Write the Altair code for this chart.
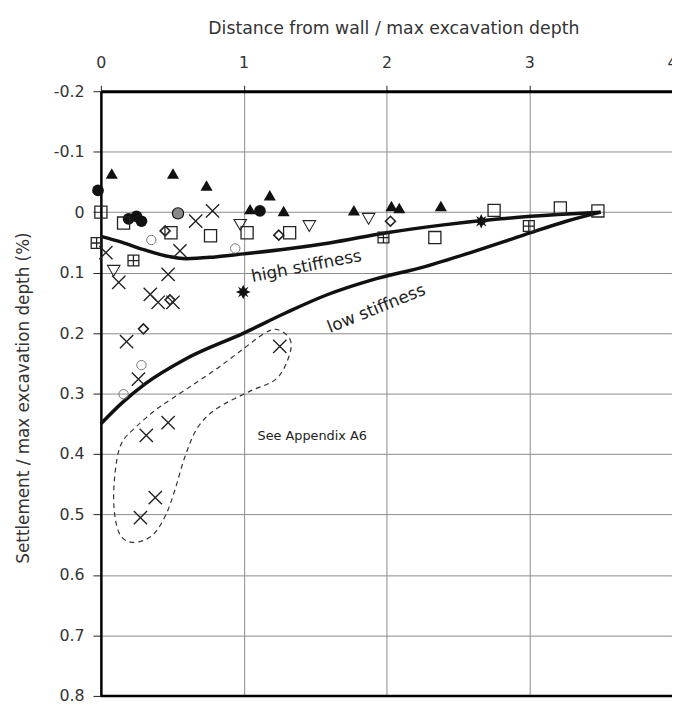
import altair as alt
import pandas as pd

# ---- data ----
tri_x = [0.076, 0.505, 0.740, 1.183, 1.045, 1.280, 1.772, 2.035, 2.090, 2.381]
tri_y = [-0.064, -0.064, -0.044, -0.028, -0.005, -0.002, -0.003, -0.010, -0.007, -0.010]

circ_x = [-0.02, 0.249, 0.284, 0.194, 1.114]
circ_y = [-0.036, 0.007, 0.015, 0.011, -0.002]

half_x = [0.540]
half_y = [0.002]

sq_x = [0.0, 0.159, 0.491, 0.768, 1.024, 1.322, 2.339, 2.754, 3.218, 3.481]
sq_y = [0.0, 0.018, 0.034, 0.039, 0.034, 0.034, 0.042, -0.003, -0.007, -0.002]

xsq_x = [-0.03, 0.228, 1.979, 2.997]
xsq_y = [0.051, 0.080, 0.042, 0.023]

tdn_x = [0.09, 0.976, 1.460, 1.875]
tdn_y = [0.097, 0.021, 0.023, 0.011]

dia_x = [0.450, 1.246, 2.028, 0.298, 0.484]
dia_y = [0.031, 0.038, 0.015, 0.193, 0.145]

oc_x = [0.284, 0.159, 0.941, 0.353]
oc_y = [0.253, 0.301, 0.060, 0.046]

star_x = [0.997, 2.664]
star_y = [0.132, 0.015]

cross_x = [0.664, 0.782, 0.035, 0.554, 0.471, 0.125, 0.346, 0.401, 0.505,
           0.180, 0.263, 1.253, 0.471, 0.318, 0.381, 0.277]
cross_y = [0.015, -0.002, 0.067, 0.064, 0.103, 0.116, 0.136, 0.149, 0.149,
           0.214, 0.276, 0.222, 0.348, 0.369, 0.472, 0.505]

high_x = [0.0, 0.15, 0.3, 0.45, 0.6, 0.8, 1.0, 1.3, 1.6, 2.0, 2.4, 2.8, 3.2, 3.5]
high_y = [0.040, 0.050, 0.062, 0.072, 0.077, 0.074, 0.069, 0.061, 0.051, 0.034, 0.021, 0.011, 0.004, 0.0]

low_x = [0.0, 0.15, 0.31, 0.6, 1.0, 1.3, 1.58, 1.9, 2.27, 2.6, 2.96, 3.26, 3.5]
low_y = [0.350, 0.315, 0.284, 0.242, 0.200, 0.166, 0.137, 0.112, 0.090, 0.066, 0.038, 0.015, 0.0]

loop_x = [1.232, 1.322, 1.322, 1.232, 1.045, 0.817, 0.678, 0.588, 0.519, 0.450, 0.353,
          0.215, 0.125, 0.090, 0.104, 0.145, 0.242, 0.401, 0.609, 0.817, 1.003, 1.142]
loop_y = [0.194, 0.209, 0.235, 0.275, 0.296, 0.324, 0.356, 0.405, 0.459, 0.503, 0.536,
          0.546, 0.529, 0.480, 0.422, 0.382, 0.356, 0.324, 0.291, 0.258, 0.225, 0.201]

labels = ["high stiffness", "low stiffness", "See Appendix A6"]
label_x = [1.44, 1.93, 1.48]
label_y = [0.090, 0.160, 0.371]
label_angle = [349, 338, 0]
label_size = [17, 17, 13]

FONT = "DejaVu Sans"
INK = "#222222"

def df(xs, ys):
    return pd.DataFrame({"x": xs, "y": ys})

X = alt.X("x:Q",
          scale=alt.Scale(domain=[0, 4], nice=False, zero=False),
          axis=alt.Axis(orient="top", values=[0, 1, 2, 3, 4], format="d", labelFlush=False,
                        title="Distance from wall / max excavation depth",
                        titleX=296, titleY=-63, titleAlign="center", titleBaseline="middle",
                        titleFontSize=17.5, titleFontWeight="normal", titleColor="#333",
                        labelFontSize=16, labelColor="#333", labelPadding=15,
                        tickSize=6, tickColor="#222", domainColor="black", domainWidth=3,
                        grid=True, gridColor="#8a8a8a", gridWidth=1))
Y = alt.Y("y:Q",
          scale=alt.Scale(domain=[-0.2, 0.8], reverse=True, nice=False, zero=False),
          axis=alt.Axis(values=[-0.2, -0.1, 0, 0.1, 0.2, 0.3, 0.4, 0.5, 0.6, 0.7, 0.8],
                        labelExpr="datum.value == 0 ? '0' : (datum.value < 0 ? '-' : '') + format(abs(datum.value), '.1f')",
                        title="Settlement / max excavation depth (%)",
                        titleX=-78, titleY=310, titleAngle=270, titleAlign="center",
                        titleBaseline="middle",
                        titleFontSize=17, titleFontWeight="normal", titleColor="#333",
                        labelFontSize=16, labelColor="#333", labelPadding=9,
                        tickSize=8, tickColor="#222", domainColor="black", domainWidth=2.5,
                        grid=True, gridColor="#8a8a8a", gridWidth=1))

layers = []

bottom = alt.Chart(pd.DataFrame({"y": [0.8]})).mark_rule(color="black", strokeWidth=2.5).encode(y=Y)
layers.append(bottom)

loop_df = pd.DataFrame({"x": loop_x, "y": loop_y, "i": list(range(len(loop_x)))})
layers.append(alt.Chart(loop_df).mark_line(color="#333", strokeWidth=1.2, strokeDash=[5, 4],
                                           interpolate="cardinal-closed")
              .encode(x=X, y=Y, order=alt.Order("i:Q")))

for xs, ys in [(high_x, high_y), (low_x, low_y)]:
    layers.append(alt.Chart(df(xs, ys)).mark_line(color="#111", strokeWidth=3.5, interpolate="monotone")
                  .encode(x=X, y=Y))

XPATH = "M-1,-1L1,1M-1,1L1,-1"
XSQ = "M-1,-1L1,-1L1,1L-1,1ZM0,-1L0,1M-1,0L1,0"
STAR = ("M0,-1L0.25,-0.45L0.71,-0.71L0.45,-0.25L1,0L0.45,0.25L0.71,0.71L0.25,0.45"
        "L0,1L-0.25,0.45L-0.71,0.71L-0.45,0.25L-1,0L-0.45,-0.25L-0.71,-0.71L-0.25,-0.45Z")

point_specs = [
    (tri_x, tri_y, dict(shape="triangle-up", filled=True, size=150, color="#111", opacity=1)),
    (circ_x, circ_y, dict(shape="circle", filled=True, size=140, color="#111", opacity=1)),
    (half_x, half_y, dict(shape="circle", filled=True, size=130, fill="#888", stroke="#111", strokeWidth=1.2, opacity=1)),
    (sq_x, sq_y, dict(shape="square", filled=False, size=150, color=INK, strokeWidth=1.3, opacity=1)),
    (xsq_x, xsq_y, dict(shape=XSQ, filled=False, size=120, color=INK, strokeWidth=1.3, opacity=1)),
    (tdn_x, tdn_y, dict(shape="triangle-down", filled=False, size=160, color=INK, strokeWidth=1.1, opacity=1)),
    (dia_x, dia_y, dict(shape="diamond", filled=False, size=100, color=INK, strokeWidth=1.6, opacity=1)),
    (oc_x, oc_y, dict(shape="circle", filled=False, size=90, color="#777", strokeWidth=1.0, opacity=1)),
    (star_x, star_y, dict(shape=STAR, filled=True, size=220, color="#111", opacity=1)),
    (cross_x, cross_y, dict(shape=XPATH, filled=False, size=180, color="#222", strokeWidth=1.4, opacity=1)),
]
for xs, ys, props in point_specs:
    layers.append(alt.Chart(df(xs, ys)).mark_point(**props).encode(x=X, y=Y))

lab_df = pd.DataFrame({"x": label_x, "y": label_y, "t": labels})
for i in range(len(labels)):
    layers.append(alt.Chart(lab_df.iloc[[i]]).mark_text(font=FONT, fontSize=label_size[i], color="#222",
                                                       angle=label_angle[i], align="center",
                                                       baseline="middle")
                  .encode(x=X, y=Y, text="t:N"))

chart = alt.layer(*layers).properties(
    width=578, height=612,
    autosize=alt.AutoSizeParams(type="none"),
    padding={"left": 94, "top": 80, "right": 0, "bottom": 8},
).configure_view(stroke=None).configure(font=FONT)

chart.save("out.html", embed_options={"renderer": "svg", "actions": False})
